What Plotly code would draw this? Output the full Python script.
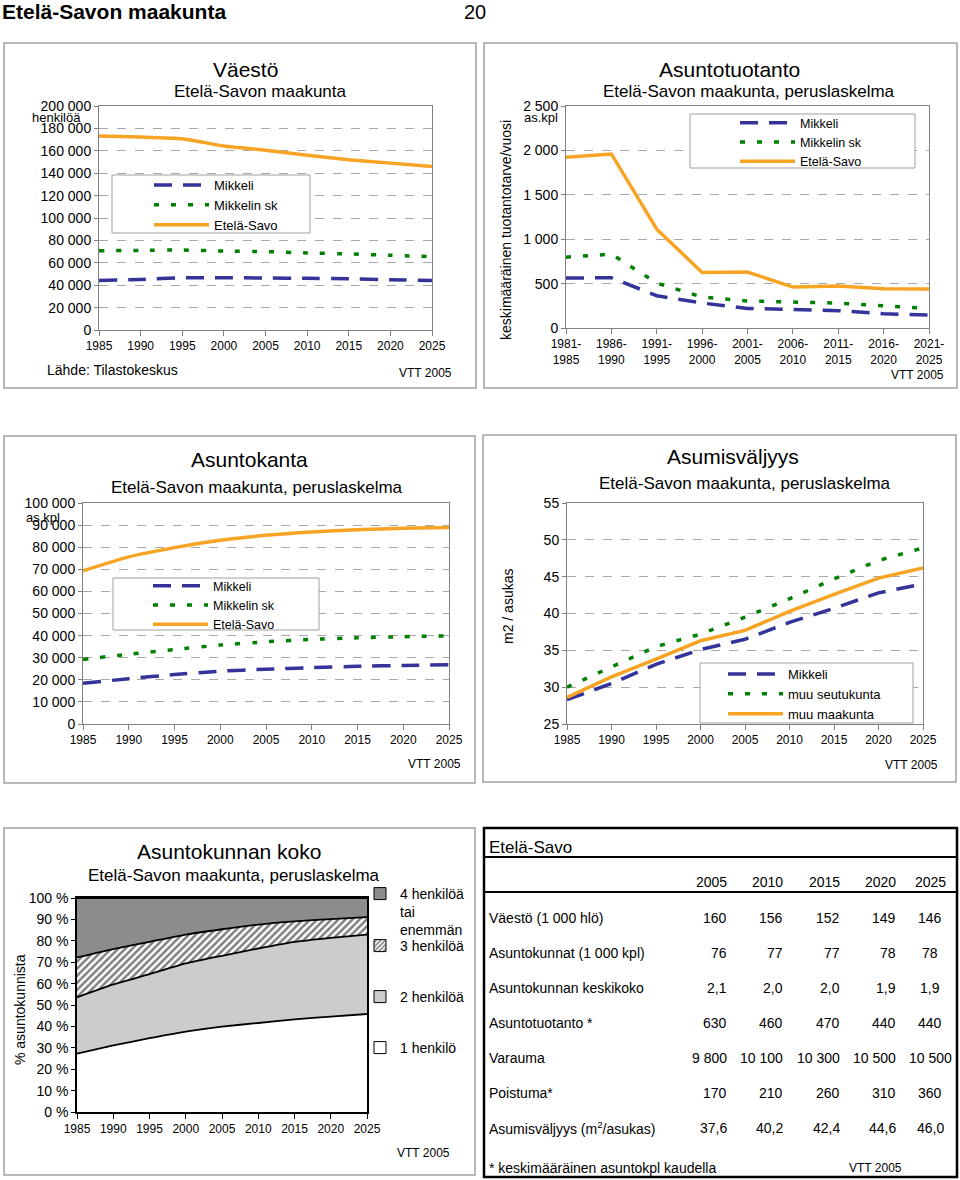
import plotly.graph_objects as go

W, H = 960, 1180


def px(x):
    return x / W


def py(y):
    return 1 - y / H


# ---------------- DATA ----------------
years = [1985, 1990, 1995, 2000, 2005, 2010, 2015, 2020, 2025]

# Väestö (henkilöä)
pop_mikkeli = [44300, 45200, 46700, 46700, 46400, 46100, 45800, 44900, 44300]
pop_mikkelin_sk = [70800, 71100, 71400, 70500, 70000, 68800, 67900, 66700, 65500]
pop_etela_savo = [173200, 172300, 170800, 164300, 160500, 156000, 152000, 149000, 146000]

# Asuntotuotanto (as.kpl / vuosi)
periods = ["1981-<br>1985", "1986-<br>1990", "1991-<br>1995", "1996-<br>2000", "2001-<br>2005",
           "2006-<br>2010", "2011-<br>2015", "2016-<br>2020", "2021-<br>2025"]
prod_mikkeli = [562, 566, 364, 281, 221, 210, 195, 161, 146]
prod_mikkelin_sk = [798, 832, 506, 349, 304, 292, 281, 251, 221]
prod_etela_savo = [1923, 1960, 1113, 626, 630, 461, 472, 442, 438]

# Asuntokanta (as.kpl)
stock_mikkeli = [18400, 20500, 22400, 23900, 24800, 25500, 26100, 26500, 26800]
stock_mikkelin_sk = [29200, 31600, 33700, 35700, 37200, 38300, 39000, 39500, 39900]
stock_etela_savo = [69300, 75600, 79800, 83100, 85400, 86900, 87900, 88600, 88900]

# Asumisväljyys (m2 / asukas)
space_mikkeli = [28.3, 30.5, 33.1, 35.1, 36.5, 38.8, 40.7, 42.8, 44.0]
space_muu_seutukunta = [30.0, 32.7, 35.5, 37.2, 39.5, 42.0, 44.7, 47.2, 48.9]
space_muu_maakunta = [28.6, 31.4, 33.8, 36.3, 37.7, 40.3, 42.6, 44.8, 46.2]

# Asuntokunnan koko (% asuntokunnista)
hh_1 = [27.3, 31.1, 34.5, 37.6, 39.9, 41.6, 43.3, 44.6, 45.8]
hh_2 = [26.3, 28.5, 29.9, 31.8, 33.1, 34.8, 36.2, 36.8, 37.1]
hh_3 = [18.6, 16.5, 15.1, 13.5, 12.4, 11.2, 9.6, 8.7, 8.2]
hh_4 = [27.8, 23.9, 20.5, 17.1, 14.6, 12.4, 10.9, 9.9, 8.9]

# Taulukko
table_years = ["2005", "2010", "2015", "2020", "2025"]
table_labels = ["Väestö (1 000 hlö)", "Asuntokunnat (1 000 kpl)", "Asuntokunnan keskikoko",
                "Asuntotuotanto *", "Varauma", "Poistuma*", "Asumisväljyys (m<sup>2</sup>/asukas)"]
t_vaesto = [160, 156, 152, 149, 146]
t_asuntokunnat = [76, 77, 77, 78, 78]
t_keskikoko = [2.1, 2.0, 2.0, 1.9, 1.9]
t_tuotanto = [630, 460, 470, 440, 440]
t_varauma = [9800, 10100, 10300, 10500, 10500]
t_poistuma = [170, 210, 260, 310, 360]
t_valjyys = [37.6, 40.2, 42.4, 44.6, 46.0]
table_values = [t_vaesto, t_asuntokunnat, t_keskikoko, t_tuotanto, t_varauma, t_poistuma, t_valjyys]

# ---------------- STYLE ----------------
FONT = "Liberation Sans, Arial, sans-serif"
NAVY = "#333399"
GREEN = "#008000"
ORANGE = "#f7a323"
GRAYAX = "#808080"
GRID = "#a8a8a8"
D_MIK = "18px,11px"
D_SK = "5px,12px"

fig = go.Figure()


def add_line(x, y, name, color, dash, xa, ya, lg, shape="linear"):
    fig.add_trace(go.Scatter(
        x=x, y=y, name=name, mode="lines",
        line=dict(color=color, width=3.5, dash=dash, shape=shape, smoothing=0.5),
        xaxis=xa, yaxis=ya, legend=lg, hoverinfo="skip"))


# Panel 1
add_line(years, pop_mikkeli, "Mikkeli", NAVY, D_MIK, "x", "y", "legend", "spline")
add_line(years, pop_mikkelin_sk, "Mikkelin sk", GREEN, D_SK, "x", "y", "legend", "spline")
add_line(years, pop_etela_savo, "Etelä-Savo", ORANGE, "solid", "x", "y", "legend", "spline")
# Panel 2
add_line(periods, prod_mikkeli, "Mikkeli", NAVY, D_MIK, "x2", "y2", "legend2")
add_line(periods, prod_mikkelin_sk, "Mikkelin sk", GREEN, D_SK, "x2", "y2", "legend2")
add_line(periods, prod_etela_savo, "Etelä-Savo", ORANGE, "solid", "x2", "y2", "legend2")
# Panel 3
add_line(years, stock_mikkeli, "Mikkeli", NAVY, D_MIK, "x3", "y3", "legend3", "spline")
add_line(years, stock_mikkelin_sk, "Mikkelin sk", GREEN, D_SK, "x3", "y3", "legend3", "spline")
add_line(years, stock_etela_savo, "Etelä-Savo", ORANGE, "solid", "x3", "y3", "legend3", "spline")
# Panel 4
add_line(years, space_mikkeli, "Mikkeli", NAVY, D_MIK, "x4", "y4", "legend4")
add_line(years, space_muu_seutukunta, "muu seutukunta", GREEN, D_SK, "x4", "y4", "legend4")
add_line(years, space_muu_maakunta, "muu maakunta", ORANGE, "solid", "x4", "y4", "legend4")

# Panel 5: stacked areas
hatch = dict(shape="/", fgcolor="black", bgcolor="white", size=5, solidity=0.5)
for vals, fill, pat in [(hh_1, "white", None), (hh_2, "#cccccc", None),
                        (hh_3, "white", hatch), (hh_4, "#8c8c8c", None)]:
    fig.add_trace(go.Scatter(
        x=years, y=vals, stackgroup="hh", mode="lines",
        line=dict(color="black", width=1.8, shape="spline", smoothing=0.5),
        fillcolor=fill, fillpattern=pat, xaxis="x5", yaxis="y5",
        showlegend=False, hoverinfo="skip"))

hh_legend = [("4 henkilöä<br>tai<br>enemmän", "#8c8c8c", None, "legend5"),
             ("3 henkilöä", "white", dict(shape="/", fgcolor="black", bgcolor="white", size=4, solidity=0.5), "legend6"),
             ("2 henkilöä", "#cccccc", None, "legend7"),
             ("1 henkilö", "white", None, "legend8")]
for name, col, pat, lg in hh_legend:
    fig.add_trace(go.Bar(x=[None], y=[None], name=name, xaxis="x5", yaxis="y5", legend=lg,
                         marker=dict(color=col, line=dict(color="black", width=1), pattern=pat)))


# ---------------- AXES ----------------
def xax(left, right, anchor, **kw):
    d = dict(domain=[px(left), px(right)], anchor=anchor, showline=True, linecolor=GRAYAX,
             linewidth=1, mirror=True, ticks="outside", tickcolor=GRAYAX, ticklen=5,
             tickfont=dict(size=12, color="black"), showgrid=False, zeroline=False,
             fixedrange=True, automargin=False)
    d.update(kw)
    return d


def yax(bottom, top, anchor, **kw):
    d = dict(domain=[py(bottom), py(top)], anchor=anchor, showline=True, linecolor=GRAYAX,
             linewidth=1, mirror=True, ticks="outside", tickcolor=GRAYAX, ticklen=4,
             tickfont=dict(size=14, color="black"), showgrid=True, gridcolor=GRID,
             griddash="dash", gridwidth=1, zeroline=False, fixedrange=True, automargin=False)
    d.update(kw)
    return d


layout_axes = dict(
    xaxis=xax(99, 432, "y", range=[1985, 2025], tickmode="array", tickvals=years),
    yaxis=yax(330, 106, "x", range=[0, 200000], dtick=20000, tickformat=",d"),
    xaxis2=xax(566, 929, "y2", type="category", range=[0, 8]),
    yaxis2=yax(328, 106, "x2", range=[0, 2500], dtick=500, tickformat=",d", separatethousands=True),
    xaxis3=xax(83, 449, "y3", range=[1985, 2025], tickmode="array", tickvals=years),
    yaxis3=yax(724, 503, "x3", range=[0, 100000], dtick=10000, tickformat=",d"),
    xaxis4=xax(567, 923, "y4", range=[1985, 2025], tickmode="array", tickvals=years),
    yaxis4=yax(724, 503, "x4", range=[25, 55], dtick=5),
    xaxis5=xax(77, 367, "y5", range=[1985, 2025], tickmode="array", tickvals=years,
               linecolor="black", linewidth=1.5, tickcolor="black"),
    yaxis5=yax(1112, 898, "x5", range=[0, 100], dtick=10, ticksuffix=" %", showgrid=False,
               linecolor="black", linewidth=1.5, tickcolor="black"),
)


# ---------------- LEGENDS ----------------
def leg(x, y, size=13, itemwidth=55, valign="middle"):
    return dict(x=px(x), y=py(y), xanchor="left", yanchor="top", bgcolor="rgba(0,0,0,0)",
                borderwidth=0, font=dict(size=size, color="black", family=FONT),
                itemwidth=itemwidth, tracegroupgap=0, valign=valign, traceorder="normal",
                itemclick=False, itemdoubleclick=False)


legends = dict(
    legend=leg(149, 170),
    legend2=leg(735, 108, size=12.5),
    legend3=leg(148, 571, size=12.5),
    legend4=leg(723, 659),
    legend5=leg(360, 878, size=14, itemwidth=30, valign="top"),
    legend6=leg(360, 930, size=14, itemwidth=30),
    legend7=leg(360, 981, size=14, itemwidth=30),
    legend8=leg(360, 1032, size=14, itemwidth=30),
)

# ---------------- ANNOTATIONS ----------------
ann = []


def text(x, y, t, size=13, xanchor="center", angle=0, bold=False):
    ann.append(dict(x=px(x), y=py(y), xref="paper", yref="paper", text=f"<b>{t}</b>" if bold else t,
                    showarrow=False, xanchor=xanchor, yanchor="middle", textangle=angle,
                    font=dict(size=size, color="black", family=FONT)))


text(0, 11, "Etelä-Savon maakunta", 21, "left", bold=True)
text(475, 12, "20", 20)
# Panel 1
text(246, 69, "Väestö", 21)
text(260, 92, "Etelä-Savon maakunta", 17)
text(56, 117, "henkilöä", 13)
text(45, 370, "Lähde: Tilastokeskus", 14, "left")
text(454, 373, "VTT 2005", 12, "right")
# Panel 2
text(729, 69, "Asuntotuotanto", 21)
text(749, 92, "Etelä-Savon maakunta, peruslaskelma", 17)
text(541, 117, "as.kpl", 13)
text(506, 230, "keskimääräinen tuotantotarve/vuosi", 14, angle=-90)
text(946, 375, "VTT 2005", 12, "right")
# Panel 3
text(249, 459, "Asuntokanta", 21)
text(257, 488, "Etelä-Savon maakunta, peruslaskelma", 17)
text(43, 517, "as.kpl", 13)
text(463, 764, "VTT 2005", 12, "right")
# Panel 4
text(733, 457, "Asumisväljyys", 21)
text(745, 484, "Etelä-Savon maakunta, peruslaskelma", 17)
text(508, 607, "m2 / asukas", 14, angle=-90)
text(940, 765, "VTT 2005", 12, "right")
# Panel 5
text(229, 851, "Asuntokunnan koko", 21)
text(234, 875, "Etelä-Savon maakunta, peruslaskelma", 17)
text(20, 1010, "% asuntokunnista", 14, angle=-90)
text(452, 1153, "VTT 2005", 12, "right")

# Table
text(487, 847, "Etelä-Savo", 17, "left")
col_x = [729, 785, 842, 898, 930]
col_anchor = ["right", "right", "right", "right", "center"]
header_y = 882
row_y0, row_dy = 918, 35


def fmt(v):
    if isinstance(v, float):
        return f"{v:.1f}".replace(".", ",")
    return f"{v:,}".replace(",", " ")


for j, yr in enumerate(table_years):
    text(col_x[j], header_y, yr, 14, col_anchor[j])
for i, (lab, vals) in enumerate(zip(table_labels, table_values)):
    yy = row_y0 + i * row_dy
    text(487, yy, lab, 14, "left")
    for j, v in enumerate(vals):
        text(col_x[j], yy, fmt(v), 14, col_anchor[j])
text(487, 1168, "* keskimääräinen asuntokpl kaudella", 14, "left")
text(875, 1168, "VTT 2005", 12)

# ---------------- SHAPES ----------------
shapes = []


def rect(x0, y0, x1, y1, color="#a0a0a0", width=1.5, fill=None, layer="below"):
    shapes.append(dict(type="rect", xref="paper", yref="paper", x0=px(x0), x1=px(x1),
                       y0=py(y0), y1=py(y1), line=dict(color=color, width=width),
                       fillcolor=fill if fill else "rgba(0,0,0,0)", layer=layer))


def hline(x0, x1, y, color="black", width=2):
    shapes.append(dict(type="line", xref="paper", yref="paper", x0=px(x0), x1=px(x1),
                       y0=py(y), y1=py(y), line=dict(color=color, width=width)))


rect(4, 43, 476, 388)
rect(484, 43, 957, 388)
rect(4, 436, 475, 783)
rect(483, 435, 956, 782)
rect(4, 828, 475, 1175)
rect(484, 828, 957, 1177, color="black", width=2.5)
hline(484, 957, 857)
hline(484, 957, 892)
# legend boxes
rect(112, 175, 310, 233, color="#a0a0a0", width=1, fill="white", layer="above")
rect(690, 114, 915, 168, color="#a0a0a0", width=1, fill="white", layer="above")
rect(113, 578, 319, 630, color="#a0a0a0", width=1, fill="white", layer="above")
rect(700, 663, 913, 723, color="#a0a0a0", width=1, fill="white", layer="above")

fig.update_layout(
    width=W, height=H, margin=dict(l=0, r=0, t=0, b=0, autoexpand=False), autosize=False,
    paper_bgcolor="white", plot_bgcolor="white",
    font=dict(family=FONT, color="black", size=13),
    separators=", ", hovermode=False, showlegend=True,
    annotations=ann, shapes=shapes, barmode="overlay",
    **layout_axes, **legends,
)

fig.write_html("out.html", config={"displayModeBar": False},
               post_script="document.body.style.margin='0';document.body.style.padding='0';")
